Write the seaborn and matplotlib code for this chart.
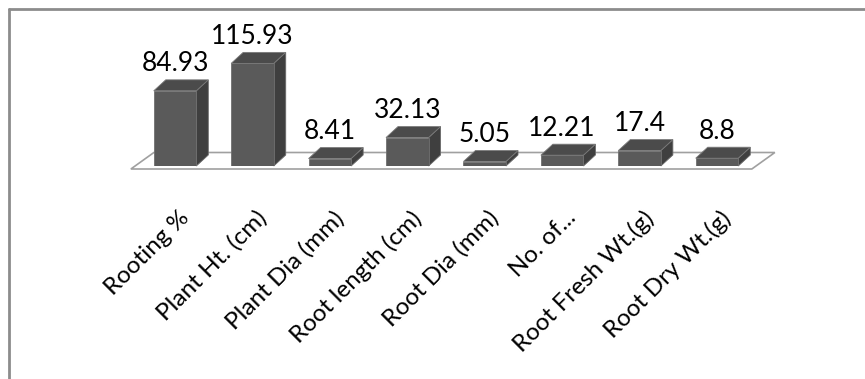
import matplotlib
matplotlib.use("Agg")
import matplotlib.pyplot as plt
from matplotlib.patches import Polygon
from matplotlib.lines import Line2D
import seaborn as sns
import pandas as pd

# Growth parameters of the cuttings
categories = ["Rooting %", "Plant Ht. (cm)", "Plant Dia (mm)", "Root length (cm)",
              "Root Dia (mm)", "No. of...", "Root Fresh Wt.(g)", "Root Dry Wt.(g)"]
values = [84.93, 115.93, 8.41, 32.13, 5.05, 12.21, 17.4, 8.8]
value_labels = ["84.93", "115.93", "8.41", "32.13", "5.05", "12.21", "17.4", "8.8"]

sns.set_theme(style="white")
plt.rcParams["font.family"] = ["Lato", "DejaVu Sans"]

W, H = 865, 379
fig = plt.figure(figsize=(W / 100, H / 100), dpi=100)

# plot area laid out in pixels
ax_left, ax_right = 136.3, 755.7
base_y = 166          # baseline, pixels from top
ymax = 130
px_per_unit = 0.885
ax_h = ymax * px_per_unit
ax = fig.add_axes([ax_left / W, (H - base_y) / H, (ax_right - ax_left) / W, ax_h / H])

df = pd.DataFrame({"category": categories, "value": values})
sns.barplot(data=df, x="category", y="value", color="#5a5a5a", saturation=1,
            width=0.55, edgecolor="#707070", linewidth=0.6, ax=ax, zorder=3)
ax.set_xlim(-0.5, 7.5)
ax.set_ylim(0, ymax)
for s in ax.spines.values():
    s.set_visible(False)
ax.set_yticks([])
ax.tick_params(axis="x", length=0, labelbottom=False)
ax.set_xlabel("")
ax.set_ylabel("")
ax.patch.set_alpha(0)

# pixel -> data conversions for the pseudo-3D depth
px_x = (ax_right - ax_left) / 8.0
dx = 12 / px_x
dy = 11 / px_per_unit

# floor of the 3D box
f_front = -3.0 / px_per_unit
f_back = f_front + 16.5 / px_per_unit
f_shift = 23 / px_x
floor = Polygon([(-0.57, f_front), (7.45, f_front), (7.45 + f_shift, f_back),
                 (-0.57 + f_shift, f_back)], closed=True, facecolor="white",
                edgecolor="#a0a0a0", linewidth=1.2, clip_on=False, zorder=1)
ax.add_patch(floor)

# side and top faces of every column
bars = [p for p in ax.patches if p is not floor]
for p in bars:
    x0, w, h = p.get_x(), p.get_width(), p.get_height()
    side = Polygon([(x0 + w, 0), (x0 + w + dx, dy), (x0 + w + dx, h + dy), (x0 + w, h)],
                   closed=True, facecolor="#3f3f3f", edgecolor="#6a6a6a",
                   linewidth=0.6, clip_on=False, zorder=2.9)
    top = Polygon([(x0, h), (x0 + dx, h + dy), (x0 + w + dx, h + dy), (x0 + w, h)],
                  closed=True, facecolor="#4b4b4b", edgecolor="#7a7a7a",
                  linewidth=0.6, clip_on=False, zorder=3.1)
    ax.add_patch(side)
    ax.add_patch(top)

# value labels above the columns
for i, (v, lab) in enumerate(zip(values, value_labels)):
    ax.annotate(lab, xy=(i, v), xytext=(0, 19.5), textcoords="offset pixels",
                ha="center", va="baseline", fontsize=19, color="black",
                annotation_clip=False)

# rotated category labels, text end anchored under each column
for i, cat in enumerate(categories):
    ax.annotate(cat, xy=(i, 0), xytext=(3, -41), textcoords="offset pixels",
                ha="right", va="top", rotation=45, rotation_mode="anchor",
                fontsize=17.5, color="black", annotation_clip=False)

# chart frame (top and left edges)
fig.add_artist(Line2D([9 / W, 1], [1 - 9 / H, 1 - 9 / H], color="#8c8c8c",
                      linewidth=2, transform=fig.transFigure))
fig.add_artist(Line2D([9 / W, 9 / W], [0, 1 - 9 / H], color="#8c8c8c",
                      linewidth=2, transform=fig.transFigure))

fig.savefig("out.png", dpi=100)
